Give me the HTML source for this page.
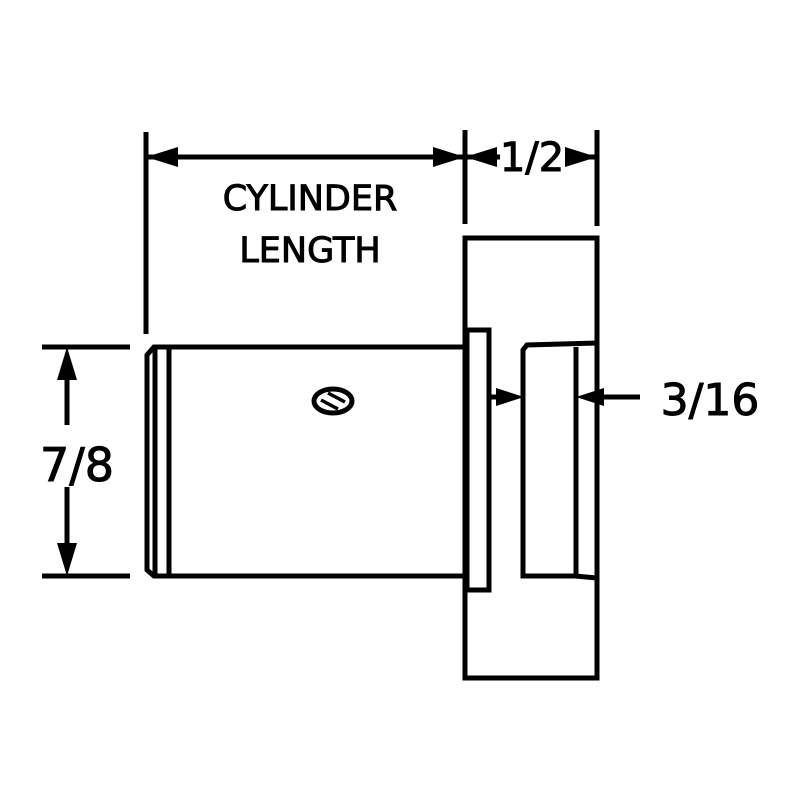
<!DOCTYPE html>
<html><head><meta charset="utf-8"><style>
html,body{margin:0;padding:0;background:#fff;}
svg{display:block}
text{font-family:"DejaVu Sans","Liberation Sans",sans-serif;fill:#000;stroke:#000;stroke-width:1}
</style></head><body>
<svg width="800" height="800" viewBox="0 0 800 800" xmlns="http://www.w3.org/2000/svg">
<g stroke="#000" stroke-width="5" fill="none">
  <line x1="146" y1="132" x2="146" y2="334"/>
  <line x1="465" y1="130" x2="465" y2="224"/>
  <line x1="597" y1="130" x2="597" y2="226"/>
  <line x1="146" y1="157" x2="465" y2="157"/>
  <line x1="440" y1="157" x2="500" y2="157"/>
  <line x1="570" y1="157" x2="597" y2="157"/>
  <rect x="465" y="238" width="132" height="440"/>
  <path d="M465 347 L154 347 L147 355 L147 570 L154 576 L465 576"/>
  <line x1="155" y1="349" x2="155" y2="574"/>
  <line x1="169" y1="347" x2="169" y2="576"/>
  <rect x="467" y="330" width="22" height="260"/>
  <path d="M597 343 L527 345 L523 350 L523 576 L575 576 L597 578"/>
  <line x1="576" y1="347" x2="576" y2="576"/>
  <line x1="489" y1="397" x2="505" y2="397"/>
  <line x1="597" y1="397" x2="640" y2="397"/>
  <line x1="42" y1="347" x2="130" y2="347"/>
  <line x1="42" y1="576" x2="130" y2="576"/>
  <line x1="67" y1="370" x2="67" y2="425"/>
  <line x1="67" y1="487" x2="67" y2="555"/>
  <ellipse cx="333" cy="401" rx="19" ry="12"/>
</g>
<g stroke="#000" stroke-width="3.5">
  <line x1="321" y1="400" x2="338" y2="409"/>
  <line x1="328" y1="393" x2="345" y2="402"/>
</g>
<g fill="#000">
  <polygon points="146,157 178,147 178,167"/>
  <polygon points="465,157 433,147 433,167"/>
  <polygon points="465,157 497,147 497,167"/>
  <polygon points="597,157 565,147 565,167"/>
  <polygon points="524,397 496,388 496,406"/>
  <polygon points="576,397 604,388 604,406"/>
  <polygon points="67,347 57,380 77,380"/>
  <polygon points="67,576 57,543 77,543"/>
</g>
<text x="310" y="210" font-size="35" text-anchor="middle">CYLINDER</text>
<text x="310" y="262" font-size="35" text-anchor="middle">LENGTH</text>
<text x="532" y="171" font-size="40" text-anchor="middle">1/2</text>
<text x="710" y="415" font-size="44" text-anchor="middle">3/16</text>
<text x="77" y="481" font-size="46" text-anchor="middle">7/8</text>
</svg>
</body></html>
